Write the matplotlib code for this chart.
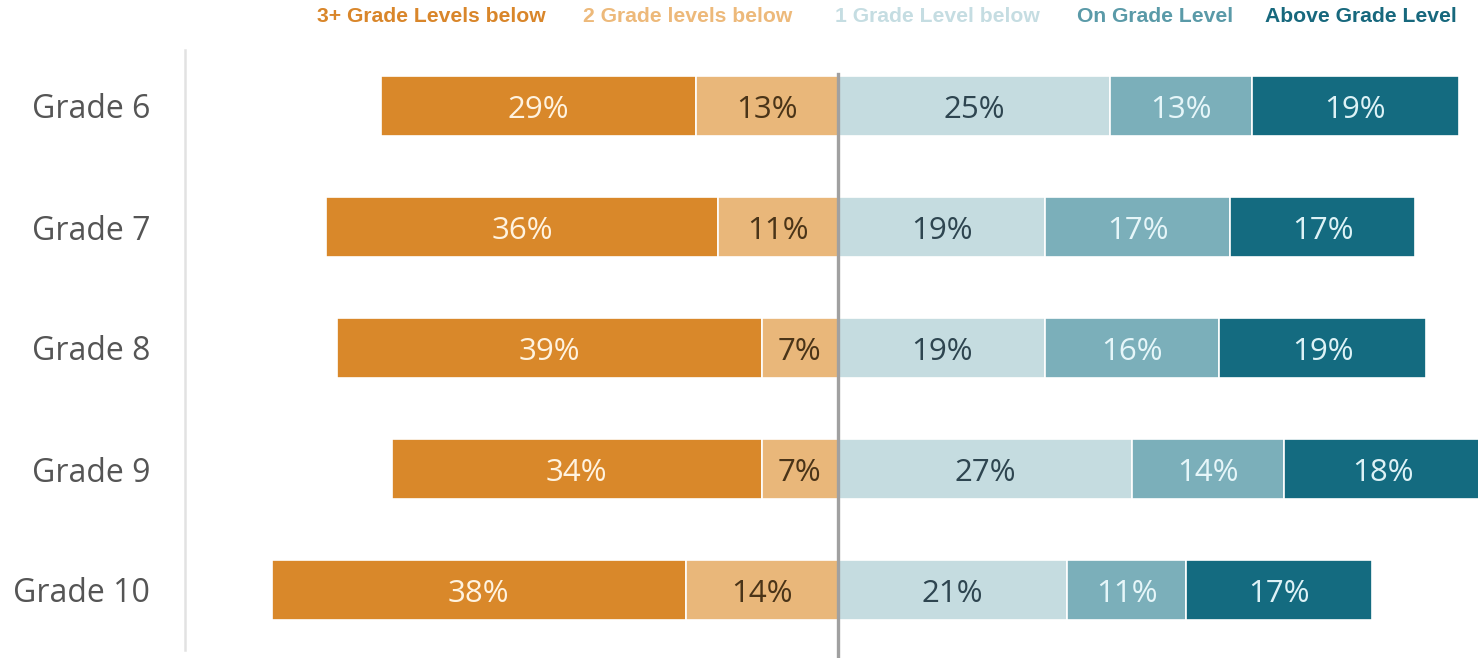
import numpy as np
import matplotlib
matplotlib.use("Agg")
import matplotlib.pyplot as plt

grades = ["Grade 6", "Grade 7", "Grade 8", "Grade 9", "Grade 10"]
categories = ["3+ Grade Levels below", "2 Grade levels below", "1 Grade Level below",
              "On Grade Level", "Above Grade Level"]
below3 = [29, 36, 39, 34, 38]
below2 = [13, 11, 7, 7, 14]
below1 = [25, 19, 19, 27, 21]
on_level = [13, 17, 16, 14, 11]
above = [19, 17, 19, 18, 17]

bar_colors = ["#D9882A", "#E9B77A", "#C5DCE0", "#7BAFBA", "#146B80"]
text_colors = ["#FFF3E0", "#4A3418", "#2E4550", "#E6F6F9", "#DDF2F6"]
legend_colors = ["#D9862A", "#EDB97A", "#C5DDE2", "#5A9AA8", "#17687D"]

W, H = 1478, 658
fig = plt.figure(figsize=(W / 100, H / 100), dpi=100)
ax = fig.add_axes([185 / W, (H - 650) / H, 1 - 185 / W, 600 / H])

y = np.arange(len(grades))
h = 0.49

b3 = np.array(below3, float)
b2 = np.array(below2, float)
left_starts = [-(b3 + b2), -b2]
right_vals = [np.array(below1, float), np.array(on_level, float), np.array(above, float)]
series = [b3, b2] + right_vals

starts = left_starts[:]
cum = np.zeros(len(grades))
for v in right_vals:
    starts.append(cum.copy())
    cum += v

for i, (s, v) in enumerate(zip(starts, series)):
    ax.barh(y, v, left=s, height=h, color=bar_colors[i], edgecolor="white", linewidth=1.2, zorder=2)
    for yi, si, vi in zip(y, s, v):
        ax.text(si + vi / 2, yi + 0.035, f"{int(round(vi))}%", ha="center", va="center",
                fontsize=22.5, color=text_colors[i], family=["Open Sans", "DejaVu Sans"], zorder=3)

ax.axvline(0, ymin=0 - 8 / 600, ymax=(650 - 74) / 600, color="#A0A0A0", linewidth=2.4,
           zorder=4, clip_on=False)

per = 10.89
ax.set_xlim((185 - 838) / per, (1478 - 838) / per)
ax.set_ylim(4 + (650 - 590) / 121, -(106 - 50) / 121)

for sp in ["top", "right", "bottom"]:
    ax.spines[sp].set_visible(False)
ax.spines["left"].set_color("#E2E2E2")
ax.spines["left"].set_linewidth(1.8)
ax.set_xticks([])
ax.set_yticks(y)
ax.set_yticklabels(grades, fontsize=23, color="#555555", family=["Open Sans", "DejaVu Sans"])
for lbl in ax.get_yticklabels():
    lbl.set_va("center_baseline")
ax.tick_params(axis="y", length=0, pad=25)

leg_x = [317, 583, 835, 1077, 1265]
for cat, c, lx in zip(categories, legend_colors, leg_x):
    fig.text(lx / W, 1 - 17 / H, cat, ha="left", va="center", fontsize=15.2,
             fontweight="bold", color=c, family=["Liberation Sans", "DejaVu Sans"])

fig.savefig("out.png", dpi=100, facecolor="white")
